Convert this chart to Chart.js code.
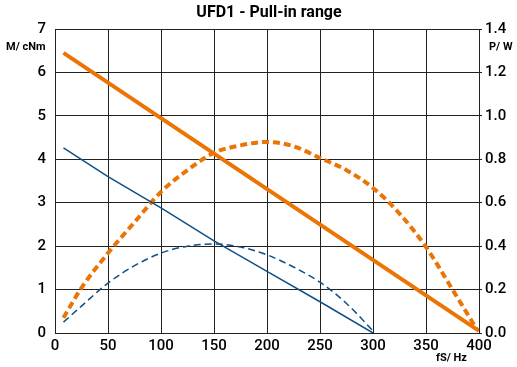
<!DOCTYPE html>
<html>
<head>
<meta charset="utf-8">
<script src="https://cdn.jsdelivr.net/npm/chart.js@4/dist/chart.umd.min.js"></script>
<style>
  html, body { margin: 0; padding: 0; background: #fff; }
  #wrap { width: 517px; height: 367px; position: relative; }
</style>
</head>
<body>
<div id="wrap"><canvas id="chart"></canvas></div>
<script>
"use strict";

const title = 'UFD1 - Pull-in range';
const xTicks = [0, 50, 100, 150, 200, 250, 300, 350, 400];

// torque (M / cNm, left axis)
const torqueOrangeX = [8, 400];
const torqueOrange = [6.45, 0.05];
const torqueBlueX = [8, 50, 100, 150, 200, 250, 300];
const torqueBlue = [4.26, 3.6, 2.88, 2.12, 1.42, 0.72, 0.0];

// power (P / W, right axis)
const powerOrangeX = [8, 25, 50, 75, 100, 125, 150, 175, 200, 225, 250, 275, 300, 325, 350, 375, 398];
const powerOrange = [0.07, 0.208, 0.368, 0.51, 0.65, 0.75, 0.83, 0.864, 0.88, 0.86, 0.806, 0.75, 0.668, 0.55, 0.396, 0.2, 0.016];
const powerBlueX = [8, 25, 50, 75, 100, 125, 150, 175, 200, 225, 250, 275, 300];
const powerBlue = [0.05, 0.124, 0.23, 0.31, 0.368, 0.40, 0.41, 0.396, 0.36, 0.304, 0.234, 0.136, 0.01];

const ORANGE = '#ec7405';
const BLUE = '#0f4f86';
const FONT = 'Roboto, sans-serif';

function pts(xs, ys) {
  return xs.map((x, i) => ({ x: x, y: ys[i] }));
}

const labelsPlugin = {
  id: 'labels',
  afterDraw(chart) {
    const ctx = chart.ctx;
    const a = chart.chartArea;
    ctx.save();
    ctx.fillStyle = '#000';
    ctx.textBaseline = 'middle';
    ctx.font = 'bold 16px ' + FONT;
    ctx.textAlign = 'center';
    ctx.fillText(title, (a.left + a.right) / 2 + 2, 13);
    ctx.font = 'bold 11px ' + FONT;
    ctx.textAlign = 'left';
    ctx.fillText('M/ cNm', 6, 47);
    ctx.fillText('P/ W', 489, 47);
    ctx.fillText('fS/ Hz', 436, 358);
    ctx.restore();
  }
};

new Chart(document.getElementById('chart'), {
  type: 'scatter',
  data: {
    datasets: [{
      data: pts(torqueOrangeX, torqueOrange),
      yAxisID: 'y',
      showLine: true,
      borderColor: ORANGE,
      borderWidth: 4,
      pointRadius: 0
    }, {
      data: pts(torqueBlueX, torqueBlue),
      yAxisID: 'y',
      showLine: true,
      borderColor: BLUE,
      borderWidth: 1.5,
      pointRadius: 0
    }, {
      data: pts(powerOrangeX, powerOrange),
      yAxisID: 'y1',
      showLine: true,
      cubicInterpolationMode: 'monotone',
      borderColor: ORANGE,
      borderWidth: 4,
      borderDash: [7, 4],
      pointRadius: 0
    }, {
      data: pts(powerBlueX, powerBlue),
      yAxisID: 'y1',
      showLine: true,
      cubicInterpolationMode: 'monotone',
      borderColor: BLUE,
      borderWidth: 1.5,
      borderDash: [7, 4],
      pointRadius: 0
    }]
  },
  options: {
    responsive: true,
    maintainAspectRatio: false,
    animation: false,
    layout: { padding: { top: 29, left: 0, right: 0, bottom: 0 } },
    plugins: {
      legend: { display: false },
      tooltip: { enabled: false },
      title: { display: false }
    },
    scales: {
      x: {
        type: 'linear',
        min: 0, max: 400,
        afterBuildTicks: (s) => { s.ticks = xTicks.map(v => ({ value: v })); },
        afterFit: (s) => { s.height = 34; },
        grid: { color: '#222', lineWidth: 1, drawTicks: false },
        border: { color: '#222' },
        ticks: { color: '#000', padding: 4, font: { family: FONT, size: 15, weight: '500' } }
      },
      y: {
        position: 'left',
        min: 0, max: 7,
        afterFit: (s) => { s.width = 55; },
        grid: { color: '#222', lineWidth: 1, drawTicks: false },
        border: { color: '#222' },
        ticks: { stepSize: 1, color: '#000', padding: 9, font: { family: FONT, size: 15, weight: '500' } }
      },
      y1: {
        position: 'right',
        min: 0, max: 1.4,
        afterFit: (s) => { s.width = 38; },
        grid: { drawOnChartArea: false, color: '#222', tickLength: 3 },
        border: { color: '#222' },
        ticks: {
          stepSize: 0.2, color: '#000', padding: 3,
          font: { family: FONT, size: 15, weight: '500' },
          callback: (v) => v.toFixed(1)
        }
      }
    }
  },
  plugins: [labelsPlugin]
});
</script>
</body>
</html>
